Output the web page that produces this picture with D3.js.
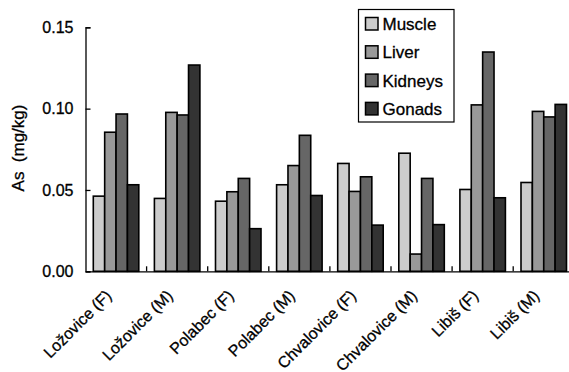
<!DOCTYPE html>
<html lang="en">
<head>
    <meta charset="UTF-8">
    <title>As in fish tissues</title>
    <style>
        html, body { margin: 0; padding: 0; background: #fff; }
        svg { display: block; font-family: "Liberation Sans", Arial, Helvetica, sans-serif; }
        svg text { fill: #000; stroke: #000; stroke-width: 0.3px; }
    </style>
</head>
<body>
    <svg id="svg" width="569" height="372"></svg>

    <script src="https://d3js.org/d3.v7.min.js"></script>
    <script>
        const sites = ['Ložovice (F)', 'Ložovice (M)', 'Polabec (F)', 'Polabec (M)',
            'Chvalovice (F)', 'Chvalovice (M)', 'Libiš (F)', 'Libiš (M)']
        const tissues = ['Muscle', 'Liver', 'Kidneys', 'Gonads']
        const muscle = [0.0462, 0.0448, 0.0431, 0.0532, 0.0663, 0.0726, 0.0503, 0.0546]
        const liver = [0.0855, 0.0977, 0.0489, 0.0650, 0.0491, 0.0106, 0.1023, 0.0983]
        const kidneys = [0.0967, 0.0961, 0.0571, 0.0836, 0.0581, 0.0571, 0.1348, 0.0949]
        const gonads = [0.0532, 0.1268, 0.0262, 0.0466, 0.0284, 0.0287, 0.0452, 0.1026]
        const yTicks = [0, 0.05, 0.10, 0.15]

        const series = [muscle, liver, kidneys, gonads]
        const data = sites.map((s, i) => ({
            site: s,
            values: tissues.map((t, j) => ({ tissue: t, value: series[j][i] }))
        }))

        const margin = { left: 85.5, top: 27.3, bottom: 271.3 }
        const groupWidth = 61.1

        const svg = d3.select('#svg')

        // x scale for groups (axis runs off the right edge like the original)
        const x0 = d3.scaleBand()
            .domain(sites)
            .range([margin.left, margin.left + groupWidth * sites.length])
            .paddingInner(0)
            .paddingOuter(0)

        const x1 = d3.scaleBand()
            .domain(tissues)
            .range([7.8, groupWidth - 7.8])
            .padding(0)

        const y = d3.scaleLinear()
            .domain([0, 0.15])
            .range([margin.bottom, margin.top])

        const color = d3.scaleOrdinal()
            .domain(tissues)
            .range(['#cccccc', '#999999', '#666666', '#333333'])

        // bars
        const groups = svg.append('g')
            .selectAll('g')
            .data(data)
            .enter()
            .append('g')
            .attr('transform', d => `translate(${x0(d.site)},0)`)

        groups.selectAll('rect')
            .data(d => d.values)
            .enter()
            .append('rect')
            .attr('x', d => x1(d.tissue))
            .attr('y', d => y(d.value))
            .attr('width', x1.bandwidth())
            .attr('height', d => y(0) - y(d.value))
            .attr('fill', d => color(d.tissue))
            .attr('stroke', '#000')
            .attr('stroke-width', 1.6)

        // y axis, ticks point inward
        const leftAxis = d3.axisLeft(y)
            .tickValues(yTicks)
            .tickFormat(d3.format('.2f'))
            .tickSize(-5)
            .tickPadding(12)

        const yAxis = svg.append('g')
            .attr('transform', `translate(${margin.left},0)`)
            .call(leftAxis)
        yAxis.select('.domain').attr('stroke-width', 1.3)
        yAxis.selectAll('.tick line').attr('stroke-width', 1.3)
        yAxis.selectAll('text')
            .attr('font-size', 16)
            .attr('font-family', '"Liberation Sans", Arial, sans-serif')

        // x axis with ticks between groups
        const bottomAxis = d3.axisBottom(x0)
            .tickSize(0)
            .tickFormat('')
        const xAxis = svg.append('g')
            .attr('transform', `translate(0,${margin.bottom})`)
            .call(bottomAxis)
        xAxis.select('.domain').attr('stroke-width', 1.3)

        xAxis.selectAll('.sep')
            .data(sites.slice(1))
            .enter()
            .append('line')
            .attr('x1', d => x0(d))
            .attr('x2', d => x0(d))
            .attr('y1', 0)
            .attr('y2', -5)
            .attr('stroke', '#000')
            .attr('stroke-width', 1.3)

        // rotated site labels
        svg.append('g')
            .selectAll('text')
            .data(sites)
            .enter()
            .append('text')
            .attr('transform', d => `translate(${x0(d) + x0.bandwidth() / 2 - 3.5},${margin.bottom + 25.5}) rotate(-45)`)
            .attr('text-anchor', 'end')
            .attr('font-size', 16)
            .text(d => d)

        // y-axis label
        svg.append('text')
            .attr('transform', 'rotate(-90)')
            .attr('x', -148)
            .attr('y', 24)
            .attr('text-anchor', 'middle')
            .attr('font-size', 17)
            .style('white-space', 'pre')
            .text('As  (mg/kg)')

        // legend
        const legend = svg.append('g').attr('transform', 'translate(358.5,9.5)')
        legend.append('rect')
            .attr('width', 95.5)
            .attr('height', 112.5)
            .attr('fill', '#fff')
            .attr('stroke', '#000')
            .attr('stroke-width', 1.2)

        const items = legend.selectAll('.item')
            .data(tissues)
            .enter()
            .append('g')
            .attr('transform', (d, i) => `translate(7,${8 + i * 28.3})`)

        items.append('rect')
            .attr('width', 12.5)
            .attr('height', 12.5)
            .attr('fill', d => color(d))
            .attr('stroke', '#000')
            .attr('stroke-width', 1.5)

        items.append('text')
            .attr('x', 17)
            .attr('y', 12.5)
            .attr('font-size', 17)
            .text(d => d)
    </script>
</body>
</html>
